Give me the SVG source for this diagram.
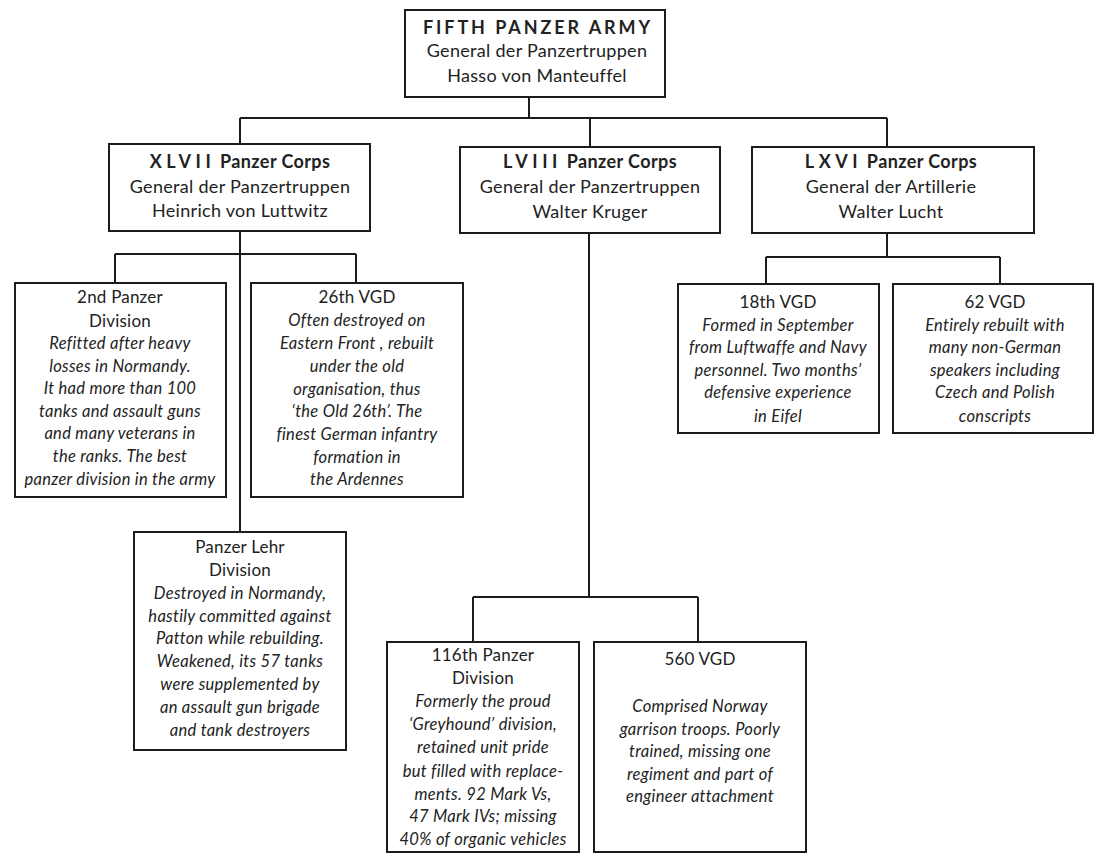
<svg xmlns="http://www.w3.org/2000/svg" width="1096" height="856" viewBox="0 0 1096 856">
<style>
.box{fill:#fff;stroke:#1c1c1c;stroke-width:2}
.ln{fill:none;stroke:#1c1c1c;stroke-width:2}
text{font-family:Lato,"Open Sans",sans-serif;fill:#222;text-anchor:middle}
.h{font-size:18px;letter-spacing:0.3px}
.hb{font-size:18px;font-weight:700;letter-spacing:0.4px}
.cap{letter-spacing:4.5px}
.ttl{font-size:18px;font-weight:700;letter-spacing:2.9px}
.t{font-size:17px;letter-spacing:0.2px}
.i{font-size:16.5px;font-style:italic;letter-spacing:0.3px}
</style>
<rect width="1096" height="856" fill="#fff"/>
<g id="connectors">
<path class="ln" d="M529 97V118M240 118H887M240 118V144M590 118V147M887 118V147"/>
<path class="ln" d="M240 231V532M115 254H356M115 254V283M356 254V283"/>
<path class="ln" d="M589 233V597M473 597H698M473 597V642M698 597V642"/>
<path class="ln" d="M887 233V257M766 257H1000M766 257V284M1000 257V284"/>
</g>
<g id="army">
<rect class="box" x="405" y="10" width="260" height="87"/>
<text class="ttl" x="538" y="34">FIFTH PANZER ARMY</text>
<text class="h" x="537" y="57">General der Panzertruppen</text>
<text class="h" x="537" y="82">Hasso von Manteuffel</text>
</g>
<g id="xlvii">
<rect class="box" x="109" y="144" width="261" height="87"/>
<text class="hb" x="240" y="168"><tspan class="cap">XLVII</tspan> Panzer Corps</text>
<text class="h" x="240" y="193">General der Panzertruppen</text>
<text class="h" x="240" y="217">Heinrich von Luttwitz</text>
</g>
<g id="lviii">
<rect class="box" x="460" y="147" width="260" height="86"/>
<text class="hb" x="590" y="168"><tspan class="cap">LVIII</tspan> Panzer Corps</text>
<text class="h" x="590" y="193">General der Panzertruppen</text>
<text class="h" x="590" y="218">Walter Kruger</text>
</g>
<g id="lxvi">
<rect class="box" x="752" y="147" width="282" height="86"/>
<text class="hb" x="891" y="168"><tspan class="cap">LXVI</tspan> Panzer Corps</text>
<text class="h" x="891" y="193">General der Artillerie</text>
<text class="h" x="891" y="218">Walter Lucht</text>
</g>
<g id="pz2">
<rect class="box" x="15" y="283" width="211" height="214"/>
<text class="t" x="120" y="303">2nd Panzer</text>
<text class="t" x="120" y="327">Division</text>
<text class="i" x="120" y="349">Refitted after heavy</text>
<text class="i" x="120" y="372">losses in Normandy.</text>
<text class="i" x="120" y="394">It had more than 100</text>
<text class="i" x="120" y="417">tanks and assault guns</text>
<text class="i" x="120" y="439">and many veterans in</text>
<text class="i" x="120" y="462">the ranks. The best</text>
<text class="i" x="120" y="485">panzer division in the army</text>
</g>
<g id="vgd26">
<rect class="box" x="251" y="283" width="212" height="214"/>
<text class="t" x="357" y="303">26th VGD</text>
<text class="i" x="357" y="326">Often destroyed on</text>
<text class="i" x="357" y="349">Eastern Front , rebuilt</text>
<text class="i" x="357" y="372">under the old</text>
<text class="i" x="357" y="395">organisation, thus</text>
<text class="i" x="357" y="417">‘the Old 26th’. The</text>
<text class="i" x="357" y="440">finest German infantry</text>
<text class="i" x="357" y="463">formation in</text>
<text class="i" x="357" y="485">the Ardennes</text>
</g>
<g id="lehr">
<rect class="box" x="134" y="532" width="212" height="218"/>
<text class="t" x="240" y="553">Panzer Lehr</text>
<text class="t" x="240" y="576">Division</text>
<text class="i" x="240" y="599">Destroyed in Normandy,</text>
<text class="i" x="240" y="622">hastily committed against</text>
<text class="i" x="240" y="644">Patton while rebuilding.</text>
<text class="i" x="240" y="667">Weakened, its 57 tanks</text>
<text class="i" x="240" y="690">were supplemented by</text>
<text class="i" x="240" y="713">an assault gun brigade</text>
<text class="i" x="240" y="736">and tank destroyers</text>
</g>
<g id="pz116">
<rect class="box" x="387" y="642" width="192" height="210"/>
<text class="t" x="483" y="661">116th Panzer</text>
<text class="t" x="483" y="684">Division</text>
<text class="i" x="483" y="707">Formerly the proud</text>
<text class="i" x="483" y="730">‘Greyhound’ division,</text>
<text class="i" x="483" y="753">retained unit pride</text>
<text class="i" x="483" y="777">but filled with replace-</text>
<text class="i" x="483" y="800">ments. 92 Mark Vs,</text>
<text class="i" x="483" y="822">47 Mark IVs; missing</text>
<text class="i" x="483" y="845">40% of organic vehicles</text>
</g>
<g id="vgd560">
<rect class="box" x="594" y="642" width="212" height="210"/>
<text class="t" x="700" y="665">560 VGD</text>
<text class="i" x="700" y="712">Comprised Norway</text>
<text class="i" x="700" y="735">garrison troops. Poorly</text>
<text class="i" x="700" y="757">trained, missing one</text>
<text class="i" x="700" y="780">regiment and part of</text>
<text class="i" x="700" y="802">engineer attachment</text>
</g>
<g id="vgd18">
<rect class="box" x="678" y="284" width="201" height="149"/>
<text class="t" x="778" y="308">18th VGD</text>
<text class="i" x="778" y="331">Formed in September</text>
<text class="i" x="778" y="353">from Luftwaffe and Navy</text>
<text class="i" x="778" y="376">personnel. Two months’</text>
<text class="i" x="778" y="398">defensive experience</text>
<text class="i" x="778" y="422">in Eifel</text>
</g>
<g id="vgd62">
<rect class="box" x="893" y="284" width="200" height="149"/>
<text class="t" x="995" y="308">62 VGD</text>
<text class="i" x="995" y="331">Entirely rebuilt with</text>
<text class="i" x="995" y="353">many non-German</text>
<text class="i" x="995" y="376">speakers including</text>
<text class="i" x="995" y="398">Czech and Polish</text>
<text class="i" x="995" y="422">conscripts</text>
</g>
</svg>
